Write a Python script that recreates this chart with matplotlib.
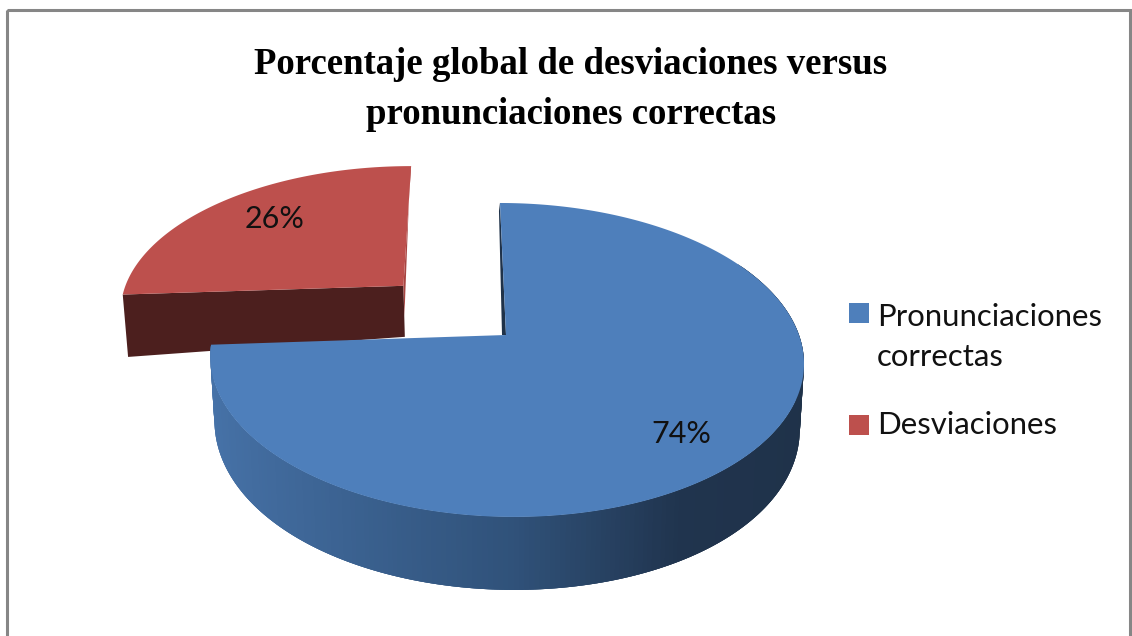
import matplotlib
matplotlib.use('Agg')
import matplotlib.pyplot as plt
from matplotlib.colors import LinearSegmentedColormap
from matplotlib.patches import Polygon, Rectangle
import numpy as np

title_lines = ['Porcentaje global de desviaciones versus', 'pronunciaciones correctas']
categories = ['Pronunciaciones\ncorrectas', 'Desviaciones']
shares = [74, 26]
explode = [0.0, 0.495]

top_colors = ['#4e7fbb', '#bd504d']
side_dark = '#4c1f1e'
side_cmap = LinearSegmentedColormap.from_list(
	'side', [(0.0, '#4773a9'), (0.5, '#30527a'), (0.75, '#20344e'), (1.0, '#1f3249')])

# projection of the unit disc to pixels
cx, cy = 506, 335
rx, ry, p = 293, 153, 0.159


def project(u, v, z=0.0):
	w = 1 + p * v
	x = cx + (rx * u * (1 - 0.014 * z)) / w - 7 * v / w
	y = cy - ry * v / w + z * (56 - 17 * v + 6 * u * u)
	return x, y


def wedge_top(a0, a1, ex, ey):
	a = np.radians(np.linspace(a0, a1, 300))
	us = np.concatenate([[ex], ex + np.sin(a)])
	vs = np.concatenate([[ey], ey + np.cos(a)])
	return np.column_stack(project(us, vs))


px = 1 / 100
fig = plt.figure(figsize=(1132 * px, 636 * px), dpi=100)
ax = fig.add_axes([0, 0, 1, 1])
ax.set_xlim(0, 1132)
ax.set_ylim(636, 0)
ax.axis('off')

# chart frame
ax.add_patch(Rectangle((7, 9.5), 1123, 640, fill=False, edgecolor='#868686', linewidth=2.2))

blue_end = shares[0] * 3.6
mid = np.radians(blue_end + shares[1] * 1.8)
ex, ey = explode[1] * np.sin(mid), explode[1] * np.cos(mid)

# red slice, cut faces first
ra = np.radians(blue_end)
x0, y0 = project(ex, ey)
x1, y1 = project(ex + np.sin(ra), ey + np.cos(ra))
x2, y2 = project(ex + np.sin(ra), ey + np.cos(ra), 1)
x3, y3 = project(ex, ey, 1)
ax.add_patch(Polygon([(x0, y0), (x1, y1), (x2, y2), (x3, y3)], facecolor=side_dark, edgecolor='none'))
xa, ya = project(ex, ey + 1)
ax.add_patch(Polygon([(x0, y0), (xa, ya), (xa - 1, ya + 4), (x0 + 1, y0 + 30)], facecolor='#a84542', edgecolor='none'))
ax.add_patch(Polygon(wedge_top(blue_end, 360, ex, ey), facecolor=top_colors[1], edgecolor='none'))

# thin dark face along the blue cut
xb0, yb0 = project(0, 0)
xb1, yb1 = project(0, 1)
ax.add_patch(Polygon([(xb0, yb0), (xb1, yb1), (xb1 - 1, yb1 + 8), (xb0 - 4, yb0)], facecolor='#1f3249', edgecolor='none'))

# blue side, one quad per step, each one runs over the next so no seams show
angles = np.linspace(60, blue_end, 240)
for i in range(len(angles) - 1):
	r0 = np.radians(angles[i])
	r1 = np.radians(angles[min(i + 3, len(angles) - 1)])
	quad = [project(np.sin(r0), np.cos(r0)), project(np.sin(r1), np.cos(r1)),
		project(np.sin(r1), np.cos(r1), 1), project(np.sin(r0), np.cos(r0), 1)]
	shade = side_cmap((np.sin(r0) + 1) / 2)
	ax.add_patch(Polygon(quad, facecolor=shade, edgecolor='none'))

ax.add_patch(Polygon(wedge_top(0, blue_end, 0, 0), facecolor=top_colors[0], edgecolor='none'))

# text
label_font = ['Lato', 'DejaVu Sans']
ax.text(571, 64, title_lines[0], family='Liberation Serif', weight='bold', fontsize=26.5, ha='center', va='center', color='black')
ax.text(571, 114, title_lines[1], family='Liberation Serif', weight='bold', fontsize=26.5, ha='center', va='center', color='black')
ax.text(681, 434, '%d%%' % shares[0], family=label_font, fontsize=22, ha='center', va='center', color='#111111')
ax.text(275, 219, '%d%%' % shares[1], family=label_font, fontsize=22, ha='center', va='center', color='#111111')

# legend
ax.add_patch(Rectangle((849, 303), 20, 20, facecolor=top_colors[0], edgecolor='none'))
ax.add_patch(Rectangle((849, 415), 20, 20, facecolor=top_colors[1], edgecolor='none'))
ax.text(877, 337, categories[0], family=label_font, fontsize=22.4, ha='left', va='center', linespacing=1.55, color='#111111')
ax.text(877, 425, categories[1], family=label_font, fontsize=22.4, ha='left', va='center', color='#111111')

fig.savefig('out.png', dpi=100)
